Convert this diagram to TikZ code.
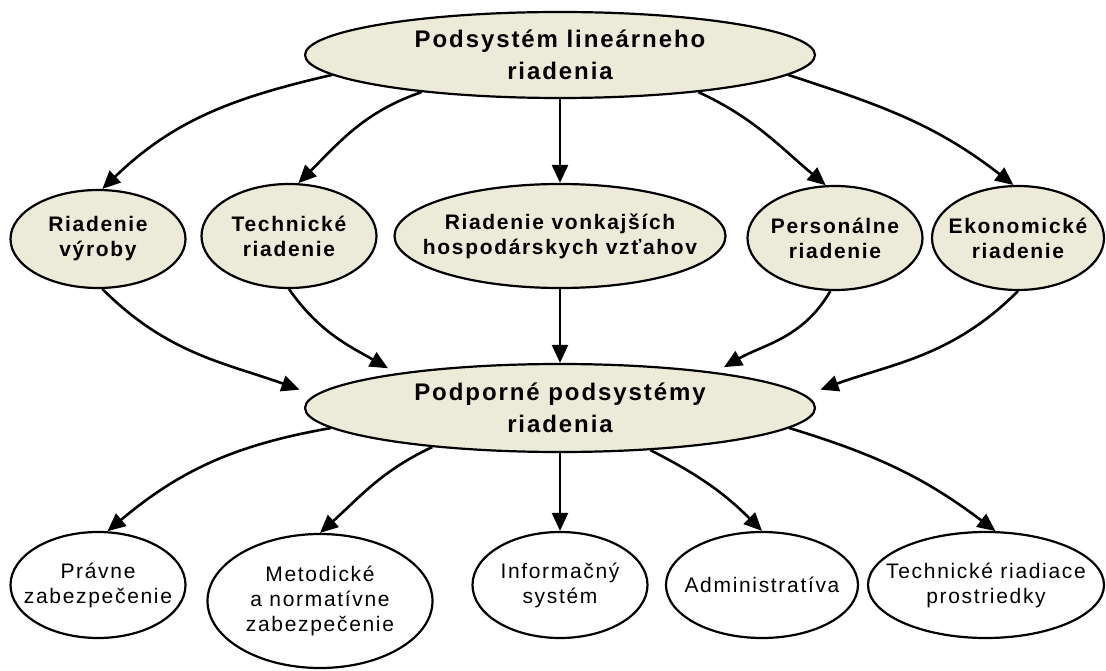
\documentclass[tikz,border=0pt]{standalone}
\usepackage{fontspec}
\setmainfont{Liberation Sans}[LetterSpace=8]
\usetikzlibrary{shapes.geometric,arrows.meta}
\definecolor{paper}{RGB}{236,234,216}

\begin{document}
\begin{tikzpicture}[x=1pt,y=-1pt]
    \tikzstyle{oval}=[draw,ellipse,line width=2.2pt,inner xsep=-25pt,inner ysep=-8pt,align=center]
    \tikzstyle{head}=[oval,fill=paper,font=\fontsize{24}{32}\selectfont\bfseries,minimum width=510pt,minimum height=86pt]
    \tikzstyle{area}=[oval,fill=paper,font=\fontsize{21}{25}\selectfont\bfseries,minimum height=104pt]
    \tikzstyle{help}=[oval,fill=white,font=\fontsize{21}{25}\selectfont,minimum height=106pt]
    \tikzstyle{link}=[draw,line width=2.6pt,-{Triangle[length=18pt,width=16pt]}]
    \path[use as bounding box,fill=white] (0,0) rectangle (1106,671);
    % upper level
    \node[head] (top) at (560,55) {Podsystém lineárneho\\riadenia};
    \node[area,minimum width=175pt,minimum height=98pt] (vyroba) at (98,239) {Riadenie\\výroby};
    \node[area,minimum width=175pt] (technicke) at (289,236) {Technické\\riadenie};
    \node[area,minimum width=331pt] (vonk) at (560,236) {Riadenie vonkajších\\hospodárskych vzťahov};
    \node[area,minimum width=175pt] (personal) at (835,238) {Personálne\\riadenie};
    \node[area,minimum width=172pt] (ekonom) at (1018,238) {Ekonomické\\riadenie};
    % support level
    \node[head,minimum height=88pt] (mid) at (560,408) {Podporné podsystémy\\riadenia};
    \node[help,minimum width=175pt] (pravne) at (98,585) {Právne\\zabezpečenie};
    \node[help,minimum width=225pt,minimum height=134pt] (metod) at (320,601) {Metodické\\a normatívne\\zabezpečenie};
    \node[help,minimum width=175pt] (info) at (560,585) {Informačný\\systém};
    \node[help,minimum width=192pt] (admin) at (762,585) {Administratíva};
    \node[help,minimum width=236pt] (prostr) at (986,585) {Technické riadiace\\prostriedky};
    % arrows
    \draw[link] (top.185) to[out=193,in=44] (vyroba.85);
    \draw[link] (top.195) to[out=199,in=45] (technicke.80);
    \draw[link] (top.south) -- (vonk.north);
    \draw[link] (top.345) to[out=-25,in=140] (personal.100);
    \draw[link] (top.355) to[out=-18,in=142] (ekonom.95);
    \draw[link,shorten >=16pt] (vyroba.-85) to[out=-45,in=160] (mid.177);
    \draw[link,shorten >=10pt] (technicke.-90) to[out=-55,in=150] (mid.168);
    \draw[link] (vonk.south) -- (mid.north);
    \draw[link,shorten >=10pt] (personal.-95) to[out=240,in=30] (mid.13);
    \draw[link,shorten >=16pt] (ekonom.-90) to[out=225,in=20] (mid.3);
    \draw[link] (mid.185) to[out=190,in=40] (pravne.80);
    \draw[link] (mid.197) to[out=205,in=42] (metod.north);
    \draw[link] (mid.south) -- (info.north);
    \draw[link] (mid.335) to[out=-27,in=135] (admin.north);
    \draw[link] (mid.355) to[out=-17,in=143] (prostr.80);
\end{tikzpicture}
\end{document}
